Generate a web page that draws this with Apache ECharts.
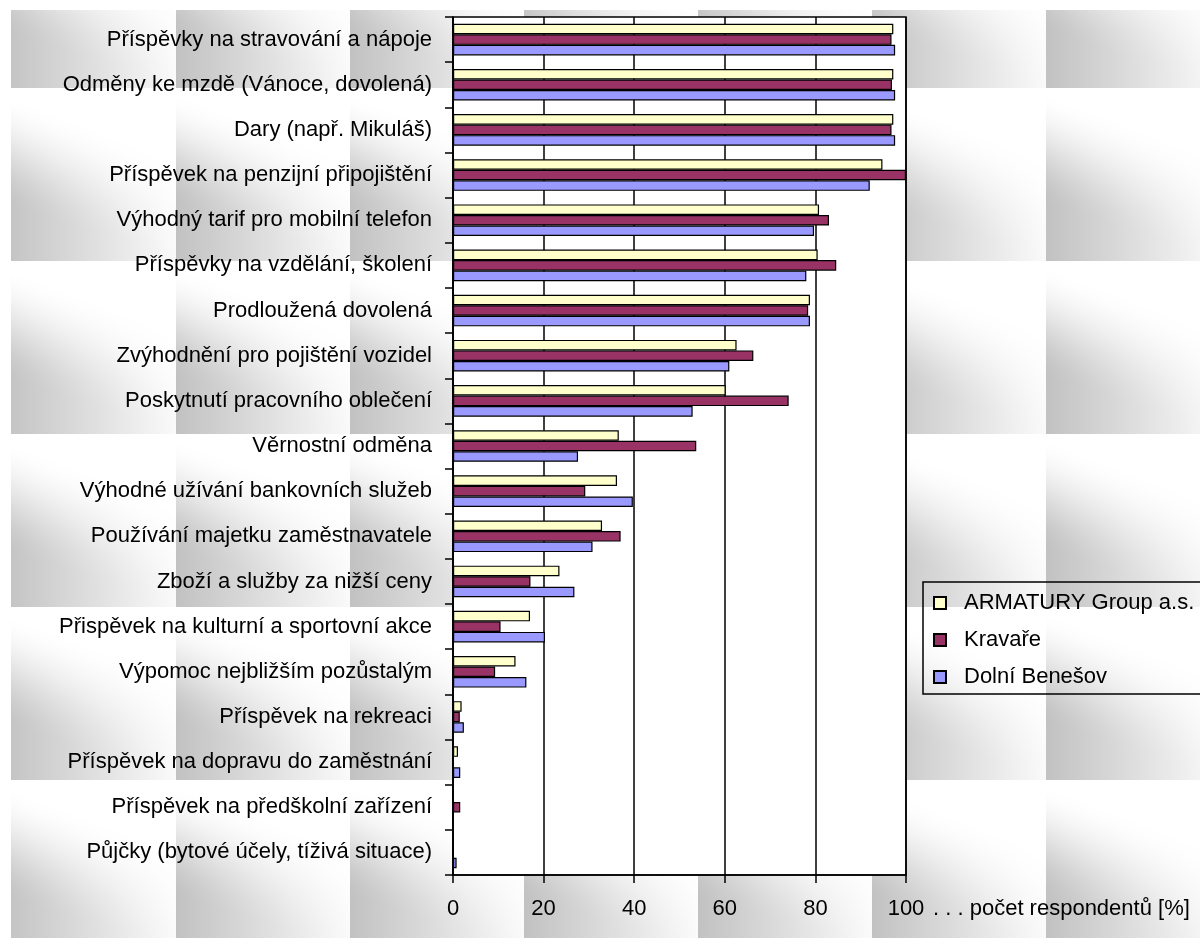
<!DOCTYPE html>
<html>
<head>
<meta charset="utf-8">
<script src="https://cdn.jsdelivr.net/npm/echarts@6/dist/echarts.min.js"></script>
<style>
  html, body { margin: 0; padding: 0; background: #fff; }
  #wrap { position: relative; width: 1200px; height: 938px; }
  #bg, #chart { position: absolute; left: 0; top: 0; width: 1200px; height: 938px; }
</style>
</head>
<body>
<div id="wrap">
  <canvas id="bg" width="1200" height="938"></canvas>
  <div id="chart"></div>
</div>
<script>
// Benefit categories (top to bottom)
const categories = [
  'Příspěvky na stravování a nápoje',
  'Odměny ke mzdě (Vánoce, dovolená)',
  'Dary (např. Mikuláš)',
  'Příspěvek na penzijní připojištění',
  'Výhodný tarif pro mobilní telefon',
  'Příspěvky na vzdělání, školení',
  'Prodloužená dovolená',
  'Zvýhodnění pro pojištění vozidel',
  'Poskytnutí pracovního oblečení',
  'Věrnostní odměna',
  'Výhodné užívání bankovních služeb',
  'Používání majetku zaměstnavatele',
  'Zboží a služby za nižší ceny',
  'Přispěvek na kulturní a sportovní akce',
  'Výpomoc nejbližším pozůstalým',
  'Příspěvek na rekreaci',
  'Příspěvek na dopravu do zaměstnání',
  'Příspěvek na předškolní zařízení',
  'Půjčky (bytové účely, tíživá situace)'
];

// Share of respondents [%]
const armatury     = [97.2, 97.2, 97.2, 94.8, 80.8, 80.5, 78.8, 62.6, 60.2, 36.6, 36.2, 32.9, 23.5, 17.0, 13.8, 1.9, 1.1, 0, 0];
const kravare      = [96.8, 96.9, 96.8, 100, 83.0, 84.6, 78.4, 66.3, 74.1, 53.7, 29.2, 37.0, 17.1, 10.5, 9.3, 1.5, 0, 1.6, 0];
const dolniBenesov = [97.6, 97.6, 97.6, 92.0, 79.7, 78.0, 78.8, 61.0, 52.9, 27.6, 39.7, 30.8, 26.8, 20.3, 16.2, 2.4, 1.6, 0, 0.8];

const seriesNames = ['ARMATURY Group a.s.', 'Kravaře', 'Dolní Benešov'];
const axisTitle = '. . . počet respondentů [%]';

// ---- textured backdrop: repeated grey gradient tiles ----
(function drawBackdrop() {
  const c = document.getElementById('bg');
  const ctx = c.getContext('2d');
  ctx.fillStyle = '#fff';
  ctx.fillRect(0, 0, 1200, 938);
  const tw = 174, th = 173;
  const tile = document.createElement('canvas');
  tile.width = tw; tile.height = th;
  const tctx = tile.getContext('2d');
  const img = tctx.createImageData(tw, th);
  const smooth = (a, b, x) => { const t = Math.min(1, Math.max(0, (x - a) / (b - a))); return t * t * (3 - 2 * t); };
  for (let y = 0; y < th; y++) {
    for (let x = 0; x < tw; x++) {
      const u = x / tw, t = y / th;
      const g = 0.76 + 0.22 * u;
      const m = smooth(0.12, 0.78, t - 0.35 * u + 0.1);
      const v = Math.round(255 * (1 - m * (1 - g)));
      const i = (y * tw + x) * 4;
      img.data[i] = img.data[i + 1] = img.data[i + 2] = v;
      img.data[i + 3] = 255;
    }
  }
  tctx.putImageData(img, 0, 0);
  ctx.save();
  ctx.beginPath();
  ctx.rect(11, 10, 1189, 928);
  ctx.clip();
  for (let ox = 2; ox < 1200; ox += tw) {
    for (let oy = -85; oy < 938; oy += th) {
      ctx.drawImage(tile, ox, oy);
    }
  }
  ctx.restore();
})();

const FONT = "'Liberation Sans', Arial, sans-serif";
const chart = echarts.init(document.getElementById('chart'), null, { renderer: 'canvas' });

const barStyle = (color) => ({ color: color, borderColor: '#000', borderWidth: 1.2 });

chart.setOption({
  backgroundColor: 'transparent',
  animation: false,
  textStyle: { fontFamily: FONT },
  grid: {
    left: 453, right: 294, top: 17, bottom: 63,
    show: true, backgroundColor: '#fff', borderColor: '#000', borderWidth: 1.5,
    containLabel: false
  },
  legend: {
    orient: 'vertical',
    left: 923, top: 582,
    padding: [10, 8, 6, 10],
    itemGap: 15,
    itemWidth: 12, itemHeight: 12,
    icon: 'rect',
    borderColor: '#000', borderWidth: 1.5,
    backgroundColor: 'transparent',
    textStyle: { fontFamily: FONT, fontSize: 22, color: '#000', padding: [0, 0, 0, 13] },
    data: seriesNames
  },
  xAxis: {
    type: 'value', min: 0, max: 100, interval: 20,
    axisLine: { show: true, lineStyle: { color: '#000', width: 1.5 } },
    axisTick: { show: true, length: 8, lineStyle: { color: '#000', width: 1.5 } },
    axisLabel: { fontSize: 22, color: '#000', margin: 23, fontFamily: FONT },
    splitLine: { show: true, lineStyle: { color: '#000', width: 1.5 } }
  },
  yAxis: {
    type: 'category', data: categories, inverse: true,
    axisLine: { show: true, lineStyle: { color: '#000', width: 1.5 } },
    axisTick: { show: true, length: 8, lineStyle: { color: '#000', width: 1.5 } },
    axisLabel: { fontSize: 22, color: '#000', margin: 21, fontFamily: FONT },
    splitLine: { show: false }
  },
  graphic: [{
    type: 'text', left: 933, top: 898,
    style: { text: axisTitle, font: '22px ' + FONT, fill: '#000' }
  }],
  series: [
    { name: seriesNames[0], type: 'bar', data: armatury, itemStyle: barStyle('#FFFFCC'), barGap: '0%', barCategoryGap: '30%' },
    { name: seriesNames[1], type: 'bar', data: kravare, itemStyle: barStyle('#993366'), barGap: '0%', barCategoryGap: '30%' },
    { name: seriesNames[2], type: 'bar', data: dolniBenesov, itemStyle: barStyle('#9999FF'), barGap: '0%', barCategoryGap: '30%' }
  ]
});
</script>
</body>
</html>
